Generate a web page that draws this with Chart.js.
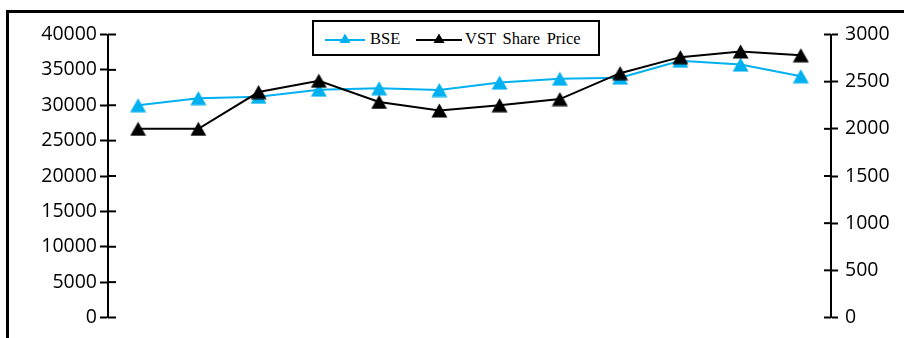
<!DOCTYPE html>
<html>
<head>
<meta charset="utf-8">
<script src="https://cdn.jsdelivr.net/npm/chart.js@4.4.1/dist/chart.umd.min.js"></script>
<style>
  html, body { margin: 0; padding: 0; background: #fff; }
  #wrap { position: relative; width: 904px; height: 338px; overflow: hidden; }
  #frame { position: absolute; left: 6px; top: 10px; width: 920px; height: 400px;
           border-top: 3px solid #000; border-left: 3px solid #000; box-sizing: border-box; }
  canvas { position: absolute; left: 0; top: 0; }
  #legend { position: absolute; left: 312px; top: 20px; width: 288px; height: 36px;
            border: 2px solid #000; box-sizing: border-box; background: #fff;
            font-family: "Liberation Serif", "Times New Roman", serif; font-size: 16.5px; color: #000; }
  #legend .sym { position: absolute; top: 10px; }
  #legend .txt { position: absolute; top: 7px; white-space: nowrap; word-spacing: 2.5px; }
</style>
</head>
<body>
<div id="wrap">
  <div id="frame"></div>
  <canvas id="c" width="904" height="338"></canvas>
  <div id="legend">
    <svg class="sym" style="left:11px" width="40" height="14">
      <line x1="0" y1="8" x2="40" y2="8" stroke="#00B0F0" stroke-width="2"/>
      <polygon points="20,1.5 25.5,11 14.5,11" fill="#00B0F0"/>
    </svg>
    <span class="txt" style="left:56px">BSE</span>
    <svg class="sym" style="left:102px" width="46" height="14">
      <line x1="0" y1="8" x2="46" y2="8" stroke="#000" stroke-width="2"/>
      <polygon points="23,1.5 28.5,11 17.5,11" fill="#000"/>
    </svg>
    <span class="txt" style="left:151px">VST Share Price</span>
  </div>
</div>
<script>
// ---- data ----
const categories = ['1','2','3','4','5','6','7','8','9','10','11','12'];
const bseValues = [30000, 31000, 31200, 32200, 32400, 32150, 33200, 33750, 33900, 36300, 35750, 34100];
const vstValues = [2000, 2000, 2390, 2510, 2285, 2195, 2250, 2315, 2590, 2760, 2820, 2780];
const leftTicks = [0, 5000, 10000, 15000, 20000, 25000, 30000, 35000, 40000];
const rightTicks = [0, 500, 1000, 1500, 2000, 2500, 3000];
const seriesNames = ['BSE', 'VST Share Price'];
const bseColor = '#00B0F0';
const vstColor = '#000000';

function triangleImage(color) {
  const w = 17, h = 15;
  const cv = document.createElement('canvas');
  cv.width = w; cv.height = h;
  const g = cv.getContext('2d');
  g.fillStyle = color;
  g.beginPath();
  g.moveTo(w / 2, 0.5);
  g.lineTo(w - 0.5, h - 0.5);
  g.lineTo(0.5, h - 0.5);
  g.closePath();
  g.fill();
  return cv;
}

const tickFont = { family: '"Open Sans", "Noto Sans", sans-serif', size: 19.5 };

const innerTicks = {
  id: 'innerTicks',
  afterDraw(chart) {
    const ctx = chart.ctx;
    ctx.save();
    ctx.strokeStyle = '#000';
    ctx.lineWidth = 2;
    const yl = chart.scales.yLeft, yr = chart.scales.yRight;
    yl.ticks.forEach(t => {
      const y = yl.getPixelForValue(t.value);
      ctx.beginPath(); ctx.moveTo(yl.right, y); ctx.lineTo(yl.right + 8, y); ctx.stroke();
    });
    yr.ticks.forEach(t => {
      const y = yr.getPixelForValue(t.value);
      ctx.beginPath(); ctx.moveTo(yr.left, y); ctx.lineTo(yr.left - 7, y); ctx.stroke();
    });
    ctx.restore();
  }
};

new Chart(document.getElementById('c'), {
  type: 'line',
  data: {
    labels: categories,
    datasets: [
      {
        label: seriesNames[0], data: bseValues, yAxisID: 'yLeft', order: 2,
        borderColor: bseColor, backgroundColor: bseColor, borderWidth: 2, tension: 0,
        pointStyle: triangleImage(bseColor), pointRadius: 8
      },
      {
        label: seriesNames[1], data: vstValues, yAxisID: 'yRight', order: 1,
        borderColor: vstColor, backgroundColor: vstColor, borderWidth: 2, tension: 0,
        pointStyle: triangleImage(vstColor), pointRadius: 8
      }
    ]
  },
  options: {
    responsive: false,
    animation: false,
    layout: { padding: { top: 34.5, bottom: 20.5, left: 0, right: 0 } },
    plugins: { legend: { display: false }, tooltip: { enabled: false } },
    scales: {
      x: { display: false, offset: true },
      yLeft: {
        position: 'left', min: 0, max: 40000,
        afterBuildTicks: s => { s.ticks = leftTicks.map(v => ({ value: v })); },
        afterFit: s => { s.width = 108; },
        border: { display: true, color: '#000', width: 2 },
        grid: { drawOnChartArea: false, drawTicks: true, tickLength: 8, tickColor: '#000', tickWidth: 2 },
        ticks: { color: '#000', font: tickFont, padding: 3, callback: v => String(v) }
      },
      yRight: {
        position: 'right', min: 0, max: 3000,
        afterBuildTicks: s => { s.ticks = rightTicks.map(v => ({ value: v })); },
        afterFit: s => { s.width = 73; },
        border: { display: true, color: '#000', width: 2 },
        grid: { drawOnChartArea: false, drawTicks: true, tickLength: 7, tickColor: '#000', tickWidth: 2 },
        ticks: { color: '#000', font: tickFont, padding: 7, callback: v => String(v) }
      }
    }
  },
  plugins: [innerTicks]
});
</script>
</body>
</html>
